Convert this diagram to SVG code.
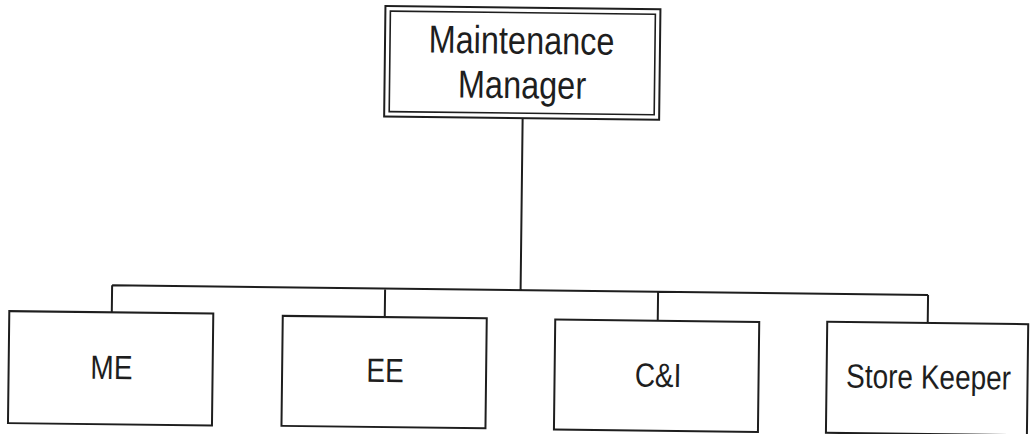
<svg xmlns="http://www.w3.org/2000/svg" width="1030" height="434" viewBox="0 0 1030 434">
<style>
.box{fill:#fff;stroke:#1e1e1e;stroke-width:2}
.dbl{fill:none;stroke:#1e1e1e;stroke-width:1.6}
.con{fill:none;stroke:#1e1e1e;stroke-width:2}
.lbl{font-family:"Liberation Sans",Arial,sans-serif;font-size:28px;fill:#1e1e1e;text-anchor:middle}
.top{font-family:"Liberation Sans",Arial,sans-serif;font-size:32.5px;fill:#1e1e1e;text-anchor:middle}
</style>
<rect width="1030" height="434" fill="#fff"/>
<g transform="rotate(0.68)">
<g id="connectors">
<path class="con" d="M524 112 V284 M115.5 284 H931.5 M115.5 284 V311 M388.5 284 V312.5 M661.5 284 V313 M931.5 284 V312"/>
</g>
<g id="maintenance-manager">
<rect class="box" x="385.5" y="1.5" width="275" height="110.5" stroke-width="1.6"/>
<rect class="dbl" x="390.5" y="6.5" width="265" height="100.5"/>
<text class="top" transform="translate(522,47.5) scale(1,1.2)">Maintenance</text>
<text class="top" transform="translate(523,92) scale(1,1.2)">Manager</text>
</g>
<g id="me">
<rect class="box" x="13" y="311" width="204" height="112"/>
<text class="lbl" transform="translate(115.8,377.7) scale(1,1.2)">ME</text>
</g>
<g id="ee">
<rect class="box" x="286.5" y="312.5" width="204" height="110"/>
<text class="lbl" transform="translate(389.5,377.5) scale(1,1.2)">EE</text>
</g>
<g id="ci">
<rect class="box" x="559" y="313" width="204" height="110"/>
<text class="lbl" transform="translate(662.5,379) scale(1,1.2)">C&amp;I</text>
</g>
<g id="store-keeper">
<rect class="box" x="831" y="312" width="201" height="111"/>
<text class="lbl" transform="translate(933,377.5) scale(1,1.2)">Store Keeper</text>
</g>
</g>
</svg>
